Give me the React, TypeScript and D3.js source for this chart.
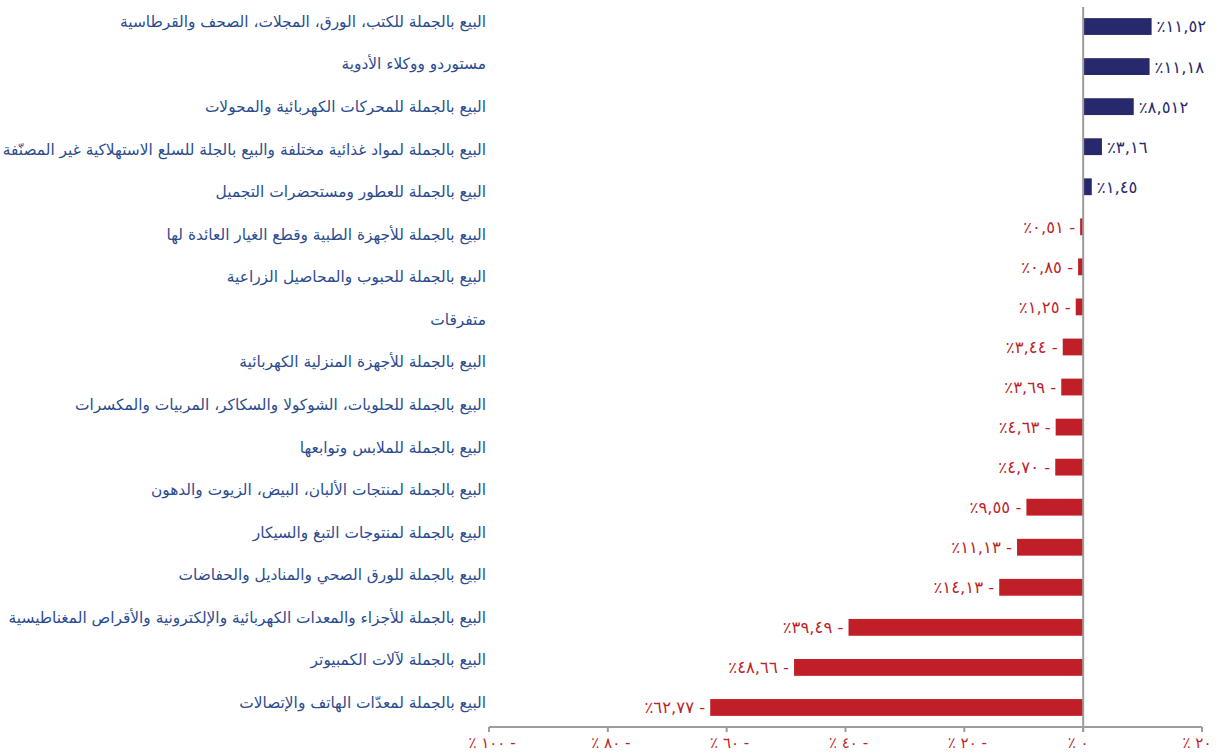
import React from "react";
import * as d3 from "d3";

const categories: string[] = [
  "البيع بالجملة للكتب، الورق، المجلات، الصحف والقرطاسية",
  "مستوردو ووكلاء الأدوية",
  "البيع بالجملة للمحركات الكهربائية والمحولات",
  "البيع بالجملة لمواد غذائية مختلفة والبيع بالجلة للسلع الاستهلاكية غير المصنّفة",
  "البيع بالجملة للعطور ومستحضرات التجميل",
  "البيع بالجملة للأجهزة الطبية وقطع الغيار العائدة لها",
  "البيع بالجملة للحبوب والمحاصيل الزراعية",
  "متفرقات",
  "البيع بالجملة للأجهزة المنزلية الكهربائية",
  "البيع بالجملة للحلويات، الشوكولا والسكاكر، المربيات والمكسرات",
  "البيع بالجملة للملابس وتوابعها",
  "البيع بالجملة لمنتجات الألبان، البيض، الزيوت والدهون",
  "البيع بالجملة لمنتوجات التبغ والسيكار",
  "البيع بالجملة للورق الصحي والمناديل والحفاضات",
  "البيع بالجملة للأجزاء والمعدات الكهربائية والإلكترونية والأقراص المغناطيسية",
  "البيع بالجملة لآلات الكمبيوتر",
  "البيع بالجملة لمعدّات الهاتف والإتصالات",
];

const values: number[] = [
  11.52, 11.18, 8.512, 3.16, 1.45, -0.51, -0.85, -1.25, -3.44, -3.69, -4.63,
  -4.7, -9.55, -11.13, -14.13, -39.49, -48.66, -62.77,
];

const tickValues: number[] = [-100, -80, -60, -40, -20, 0, 20];

const NAVY = "#28296d";
const RED = "#c01f28";
const LABEL_BLUE = "#2b4b8e";
const GRID = "#9c9c9c";
const FONT = "'DejaVu Sans', sans-serif";

const AR = "٠١٢٣٤٥٦٧٨٩";
function toArabicDigits(s: string): string {
  return s.replace(/[0-9]/g, (d) => AR[+d]).replace(".", ",");
}
function fmtValue(v: number): string {
  const a = Math.abs(v);
  let s = a.toString();
  const dec = s.includes(".") ? s.split(".")[1].length : 0;
  if (dec < 2) s = a.toFixed(2);
  return toArabicDigits(s);
}

export default function App() {
  const W = 1221;
  const H = 753;
  const x = d3.scaleLinear().domain([-100, 20]).range([489, 1202]);
  const yBar = d3
    .scaleBand<number>()
    .domain(values.map((_, i) => i))
    .range([6.5, 727.5])
    .paddingInner(0.58)
    .paddingOuter(0.29);
  const yLab = d3
    .scalePoint<number>()
    .domain(categories.map((_, i) => i))
    .range([22, 703]);
  const axisY = 727;

  return (
    <svg
      width={W}
      height={H}
      style={{ position: "absolute", left: 0, top: 0, background: "#fff" }}
      fontFamily={FONT}
    >
      {categories.map((c, i) => (
        <text
          key={"c" + i}
          x={486}
          y={yLab(i)!}
          dy="0.32em"
          textAnchor="end"
          fontSize={15.4}
          fill={LABEL_BLUE}
        >
          {c}
        </text>
      ))}
      {values.map((v, i) => (
        <rect
          key={"b" + i}
          x={x(Math.min(0, v))}
          y={yBar(i)!}
          width={Math.abs(x(v) - x(0))}
          height={yBar.bandwidth()}
          fill={v >= 0 ? NAVY : RED}
        />
      ))}
      {values.map((v, i) => {
        const cy = yBar(i)! + yBar.bandwidth() / 2;
        const pos = v >= 0;
        const txt = pos ? "٪" + fmtValue(v) : "٪" + fmtValue(v) + " -";
        return (
          <text
            key={"v" + i}
            x={pos ? x(v) + 5 : x(v) - 5}
            y={cy}
            dy="0.36em"
            textAnchor={pos ? "start" : "end"}
            fontSize={16.5}
            fill={pos ? NAVY : RED}
            style={{ direction: "ltr", unicodeBidi: "bidi-override" }}
          >
            {txt}
          </text>
        );
      })}
      <line x1={x(0)} x2={x(0)} y1={7} y2={axisY + 5} stroke={GRID} strokeWidth={2} />
      <line x1={x(-100)} x2={x(20)} y1={axisY} y2={axisY} stroke={GRID} strokeWidth={2} />
      {tickValues.map((t) => (
        <g key={"t" + t}>
          <line x1={x(t)} x2={x(t)} y1={axisY} y2={axisY + 5} stroke={GRID} strokeWidth={2} />
          <text
            x={t < 0 ? x(t) + 3 : x(t) - 5}
            y={axisY + 21}
            textAnchor="middle"
            fontSize={15}
            fill={RED}
            style={{ direction: "ltr", unicodeBidi: "bidi-override" }}
          >
            {"٪ " + toArabicDigits(String(Math.abs(t))) + (t < 0 ? " -" : "")}
          </text>
        </g>
      ))}
    </svg>
  );
}
